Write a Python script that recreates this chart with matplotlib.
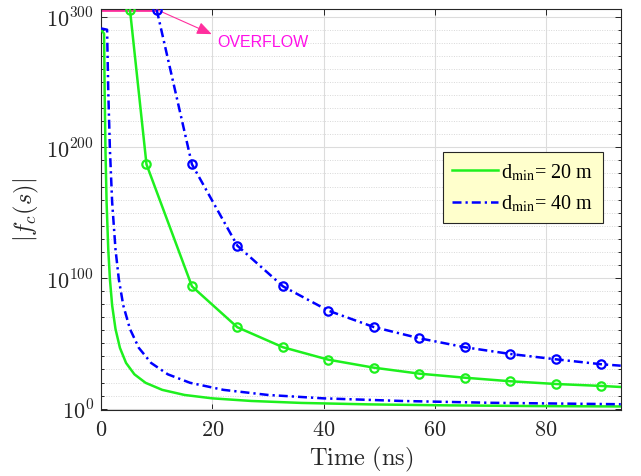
import numpy as np
import matplotlib
matplotlib.use('Agg')
import matplotlib.pyplot as plt
from matplotlib.ticker import FixedLocator, FuncFormatter, NullFormatter
from matplotlib.lines import Line2D

# ---------------- data (y given as log10 values) -------------
OVF = 305.4          # level at which overflowed values are drawn (log10)

# method with markers, d_min = 20 m
t_g_mark = [5.2, 8.17, 16.34, 24.5, 32.7, 40.85, 49.0, 57.2, 65.4, 73.5, 81.7, 89.9, 93.4]
e_g_mark = [OVF, 187, 93.6, 62.3, 47.0, 37.5, 31.4, 26.8, 23.7, 21.0, 18.9, 17.4, 16.6]
# method with markers, d_min = 40 m
t_b_mark = [10.0, 16.34, 24.5, 32.7, 40.85, 49.0, 57.2, 65.4, 73.5, 81.7, 89.9, 93.4]
e_b_mark = [OVF, 187, 124.7, 93.6, 75.0, 62.5, 53.9, 47.0, 41.9, 37.8, 34.0, 32.9]

# smooth curves without markers
t_g_low = [0, 0.55, 0.65, 0.8, 1.0, 1.3, 1.6, 2.0, 2.6, 3.4, 4.5, 6.0, 8.0, 11, 15, 20, 27, 36, 48, 62, 78, 93.4]
e_g_low = [290, 287, 243, 198, 158, 122, 99, 79, 61, 46.5, 35, 26.3, 19.8, 14.4, 10.5, 7.9, 5.9, 4.4, 3.3, 2.55, 2.0, 1.7]
t_b_low = [0, 1.09, 1.3, 1.6, 2.0, 2.6, 3.2, 4.0, 5.2, 6.8, 9.0, 12, 16, 22, 30, 40, 54, 70, 93.4]
e_b_low = [291, 290, 243, 198, 158, 122, 99, 79, 61, 46.5, 35, 26.3, 19.8, 14.4, 10.5, 7.9, 5.9, 4.5, 3.4]

# overflow marker line
t_ovf = [0, 10.0]
e_ovf = [OVF, OVF]

labels = [r'd$_{\rm min}$= 20 m', r'd$_{\rm min}$= 40 m']
xticks = [0, 20, 40, 60, 80]
yticks_exp = [0, 100, 200, 300]

# ---------------- styling -------------
plt.rcParams['mathtext.fontset'] = 'cm'
GREEN = '#1ef01e'
BLUE = '#0000ff'
PINK = '#ff2f9e'
MAG = '#ff10e8'
DARK = '#262626'
dashdot = (0, (3.6, 1.6, 0.9, 1.6))

fig = plt.figure(figsize=(6.41, 4.77), dpi=100)
ax = fig.add_axes([0.1576, 0.139, 0.8108, 0.841])
ax.set_yscale('log')

def p(e):
    return 10.0 ** np.asarray(e, dtype=float)

ax.plot(t_ovf, p(e_ovf), color=PINK, lw=2.0, zorder=2, solid_capstyle='butt')
ax.plot(t_g_low, p(e_g_low), color=GREEN, lw=1.8, zorder=3)
ax.plot(t_b_low, p(e_b_low), color=BLUE, lw=1.8, ls=dashdot, zorder=3)
ax.plot(t_g_mark, p(e_g_mark), color=GREEN, lw=1.8, zorder=4, marker='o', ms=6,
        mfc='none', mew=1.6, markevery=list(range(len(t_g_mark) - 1)))
ax.plot(t_b_mark, p(e_b_mark), color=BLUE, lw=1.8, ls=dashdot, zorder=4, marker='o', ms=6,
        mfc='none', mew=1.6, markevery=list(range(len(t_b_mark) - 1)))

ax.set_xlim(0, 93.4)
ax.set_ylim(10.0 ** -0.78, 10.0 ** 306.2)

ax.xaxis.set_major_locator(FixedLocator(xticks))
ax.xaxis.set_major_formatter(FuncFormatter(lambda v, pos: r'$%d$' % round(v)))
ax.yaxis.set_major_locator(FixedLocator([10.0 ** k for k in yticks_exp]))
ax.yaxis.set_major_formatter(FuncFormatter(lambda v, pos: r'$10^{%d}$' % round(np.log10(v))))
ax.yaxis.set_minor_locator(FixedLocator([10.0 ** k for k in range(10, 306, 10) if k % 100]))
ax.yaxis.set_minor_formatter(NullFormatter())
ax.xaxis.set_minor_locator(FixedLocator([]))

ax.tick_params(which='both', direction='in', top=True, right=True, colors=DARK,
               labelsize=16, width=0.7)
ax.tick_params(which='major', length=4.5)
ax.tick_params(axis='x', which='major', pad=7)
ax.tick_params(axis='y', which='major', pad=5)
ax.tick_params(which='minor', length=2.5)
for s in ax.spines.values():
    s.set_color(DARK)
    s.set_linewidth(0.8)

ax.set_axisbelow(True)
ax.grid(which='major', color='#dcdcdc', lw=0.8, ls='-')
ax.grid(which='minor', axis='y', color='#d8d8d8', lw=0.7, ls=(0, (1, 1.5)))

ax.set_xlabel(r'$\mathrm{Time\ (ns)}$', fontsize=17.6, color=DARK, labelpad=3)
ax.set_ylabel(r'$|f_c(s)|$', fontsize=17.6, color=DARK, labelpad=4)

# overflow annotation
ax.annotate('', xy=(19.9, 10.0 ** 286.6), xytext=(10.0, 10.0 ** OVF),
            arrowprops=dict(arrowstyle='-|>,head_length=0.6,head_width=0.25',
                            color=PINK, lw=0.8, mutation_scale=15,
                            shrinkA=0, shrinkB=0), annotation_clip=False)
ax.text(20.8, 10.0 ** 281.3, 'OVERFLOW', color=MAG, fontsize=11.5,
        family='Liberation Sans', ha='left', va='center')

handles = [Line2D([], [], color=GREEN, lw=1.8),
           Line2D([], [], color=BLUE, lw=1.8, ls=dashdot)]
leg = ax.legend(handles, labels, loc='upper left', bbox_to_anchor=(0.658, 0.642),
                prop={'family': 'Liberation Serif', 'size': 14.5},
                handlelength=2.3, handletextpad=0.15, borderpad=0.45,
                labelspacing=0.55, fancybox=False, framealpha=1,
                facecolor='#ffffcc', edgecolor=DARK, borderaxespad=0)
leg.get_frame().set_linewidth(0.8)
for t in leg.get_texts():
    t.set_math_fontfamily('stix')

fig.savefig('out.png', dpi=100)
